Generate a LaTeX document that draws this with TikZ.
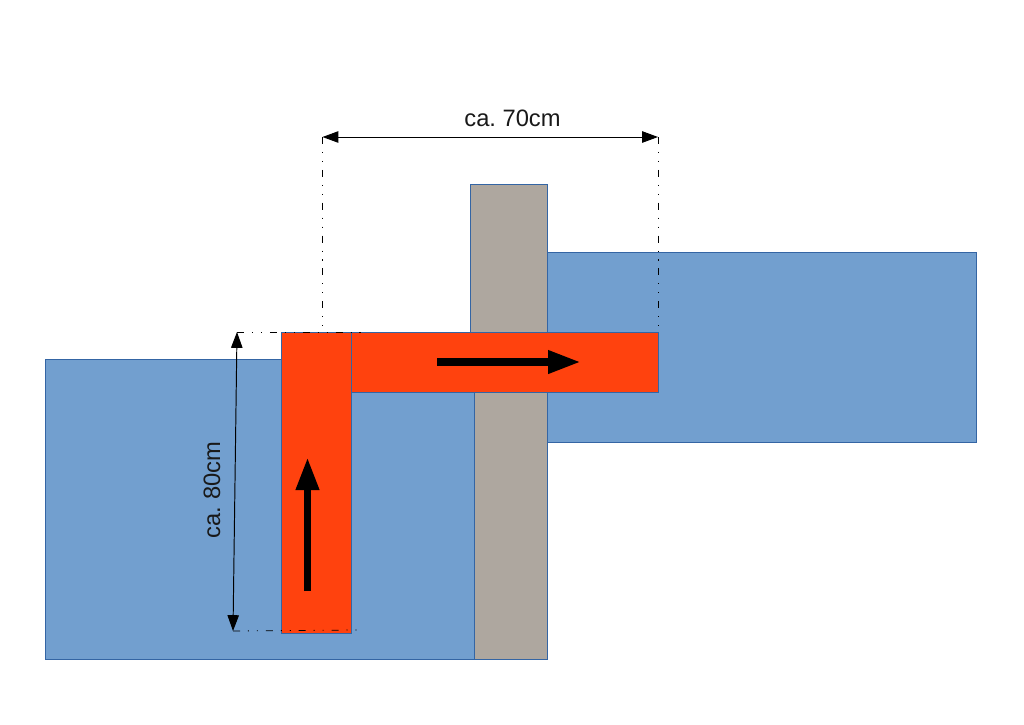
\documentclass[tikz,border=0pt]{standalone}
\usepackage{fontspec}
\setmainfont{Liberation Sans}
\usetikzlibrary{arrows.meta}
\definecolor{wallblue}{HTML}{729FCF}
\definecolor{edgeblue}{HTML}{3465A4}
\definecolor{pipered}{HTML}{FF420E}
\definecolor{wallgray}{HTML}{AEA79F}
\tikzset{
  part/.style={draw=edgeblue,line width=0.5pt},
  dimline/.style={line width=0.55pt,{Triangle[length=9pt,width=6.5pt]}-{Triangle[length=9pt,width=6.5pt]}},
  helpline/.style={line width=0.45pt,dash pattern=on 4pt off 4.5pt on 0.6pt off 4.5pt on 0.6pt off 4.5pt},
  flow/.style={line width=4pt,-{Triangle[length=18.5pt,width=12.5pt]}},
  dimtext/.style={font=\fontsize{13.5}{16}\selectfont,text=black!90}
}
\begin{document}
\begin{tikzpicture}[x=0.02cm,y=-0.02cm]
  \useasboundingbox (0,0) rectangle (1024,724);
  % walls
  \draw[part,fill=wallblue] (45,359) rectangle (474,659);
  \draw[part,fill=wallblue] (547,252) rectangle (976,442);
  \draw[part,fill=wallgray] (470,184) rectangle (547,332);
  \draw[part,fill=wallgray] (474,392) rectangle (547,659);
  % pipe
  \draw[part,fill=pipered] (351,332) rectangle (658,392);
  \draw[part,fill=pipered] (281,332) rectangle (351,633);
  % flow arrows
  \coordinate (upstart) at (307.5,591);
  \coordinate (uptip) at (307.5,457.5);
  \coordinate (rightstart) at (437,362);
  \coordinate (righttip) at (580.5,362);
  \draw[flow] (upstart) -- (uptip);
  \draw[flow] (rightstart) -- (righttip);
  % dimensions
  \coordinate (widthleft) at (322.5,137);
  \coordinate (widthright) at (658,137);
  \coordinate (heighttop) at (237,332);
  \coordinate (heightbottom) at (233,631);
  \draw[helpline] (widthleft) -- (322.5,332);
  \draw[helpline] (widthright) -- (658,332);
  \draw[helpline] (heighttop) -- (366,332);
  \draw[helpline] (heightbottom) -- (358,630);
  \draw[dimline] (widthleft) -- (widthright);
  \draw[dimline] (heighttop) -- (heightbottom);
  \node[dimtext] (widthlabel) at (512.5,118.5) {ca.\ 70cm};
  \node[dimtext,rotate=90] (heightlabel) at (212,490) {ca.\ 80cm};
\end{tikzpicture}
\end{document}
